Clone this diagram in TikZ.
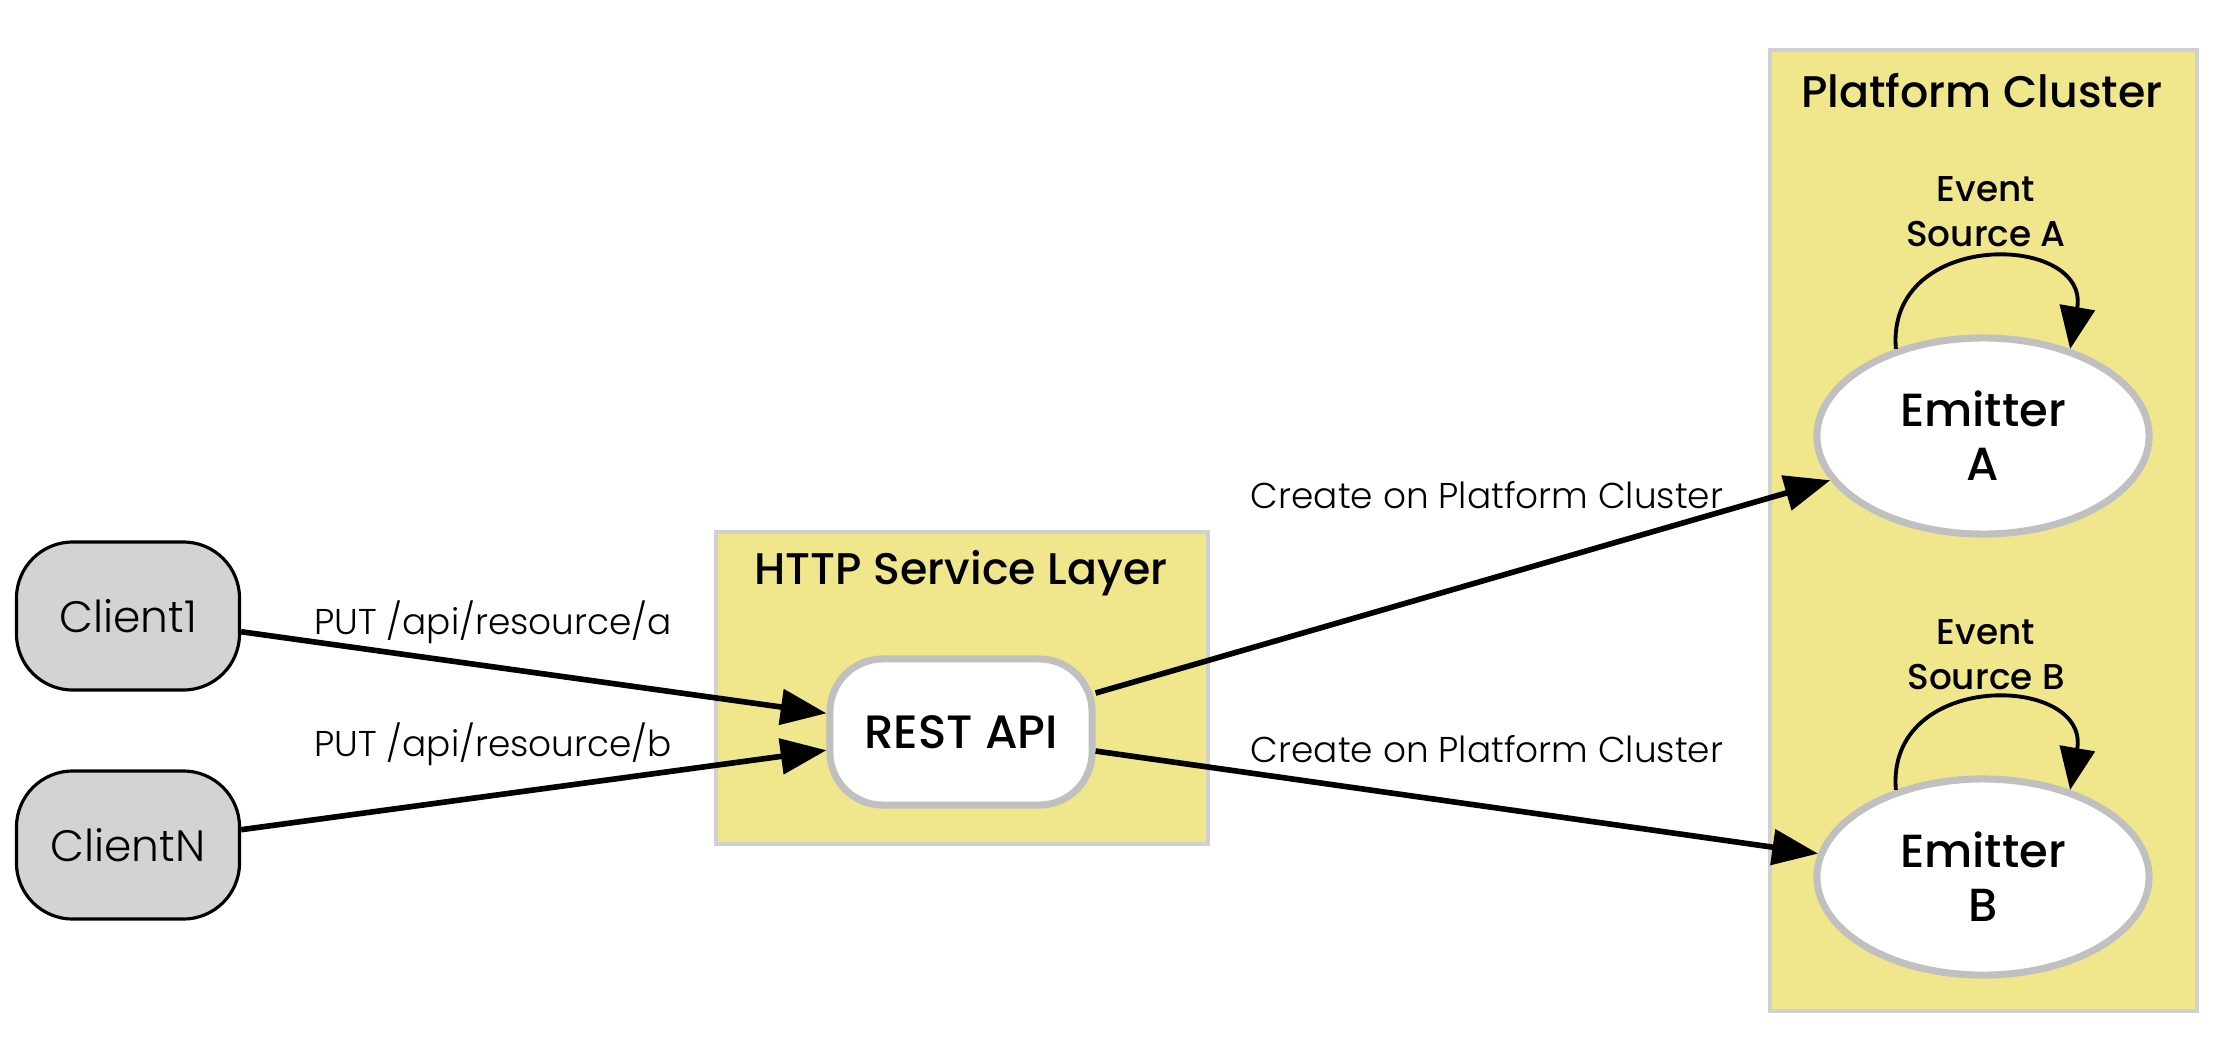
\documentclass[tikz,border=0pt]{standalone}
\usepackage{fontspec}
\setmainfont{Poppins}
\newfontfamily\thinfont{Poppins Light}
\newfontfamily\medfont{Poppins Medium}
\usetikzlibrary{arrows.meta,shapes.geometric}
\definecolor{khaki}{HTML}{F0E68C}
\definecolor{clientgray}{HTML}{D3D3D3}
\definecolor{framegray}{HTML}{D0D0D0}
\definecolor{silver}{HTML}{C0C0C0}
\begin{document}
\begin{tikzpicture}[x=0.01cm, y=-0.01cm,
    cluster/.style={fill=khaki, draw=framegray, line width=0.9pt},
    title/.style={font=\medfont\fontsize{12.6}{15}\selectfont},
    client/.style={draw, line width=0.9pt, fill=clientgray, rounded corners=16pt,
        minimum width=2.23cm, minimum height=1.48cm, font=\thinfont\fontsize{12.5}{15}\selectfont},
    api/.style={draw=silver, line width=2pt, fill=white, rounded corners=15pt,
        minimum width=2.62cm, minimum height=1.46cm, font=\medfont\fontsize{13.3}{15}\selectfont},
    emitter/.style={ellipse, draw=silver, line width=2pt, fill=white,
        minimum width=3.32cm, minimum height=1.96cm, align=center,
        font=\medfont\fontsize{13.2}{15.3}\selectfont},
    elabel/.style={font=\thinfont\fontsize{10.2}{12}\selectfont},
    slabel/.style={align=center, font=\medfont\fontsize{10.2}{12.8}\selectfont},
    link/.style={line width=1.6pt, -{Triangle[length=13pt, width=10pt]}},
    selfloop/.style={line width=1.1pt, -{Triangle[length=12pt, width=10pt]}}]
    \useasboundingbox (0,0) rectangle (2236,1063);

    % 集群背景
    \draw[cluster] (716,532) rectangle (1208,844);
    \node[title] (httptitle) at (961,573) {HTTP Service Layer};
    \draw[cluster] (1770,50) rectangle (2197,1011);
    \node[title] (clustertitle) at (1982,91) {Platform Cluster};

    % 节点
    \node[client] (c1) at (128,616) {Client1};
    \node[client] (cn) at (128,845) {ClientN};
    \node[api] (rest) at (961,732) {REST API};
    \node[emitter] (ea) at (1983,436) {Emitter\\A};
    \node[emitter] (eb) at (1983,877) {Emitter\\B};

    % 连线
    \draw[link] (c1) -- (rest);
    \node[elabel] (puta) at (493,622) {PUT /api/resource/a};
    \draw[link] (cn) -- (rest);
    \node[elabel] (putb) at (493,744) {PUT /api/resource/b};
    \draw[link] (rest) -- (ea);
    \node[elabel] (createa) at (1487,495) {Create on Platform Cluster};
    \draw[link] (rest) -- (eb);
    \node[elabel] (createb) at (1487,749) {Create on Platform Cluster};

    % 自环
    \draw[selfloop] (ea.135) .. controls +(-10,-121) and +(20,-116) .. (ea.45);
    \node[slabel] (srca) at (1986,212) {Event\\Source A};
    \draw[selfloop] (eb.135) .. controls +(-10,-121) and +(20,-116) .. (eb.45);
    \node[slabel] (srcb) at (1986,655) {Event\\Source B};
\end{tikzpicture}
\end{document}
